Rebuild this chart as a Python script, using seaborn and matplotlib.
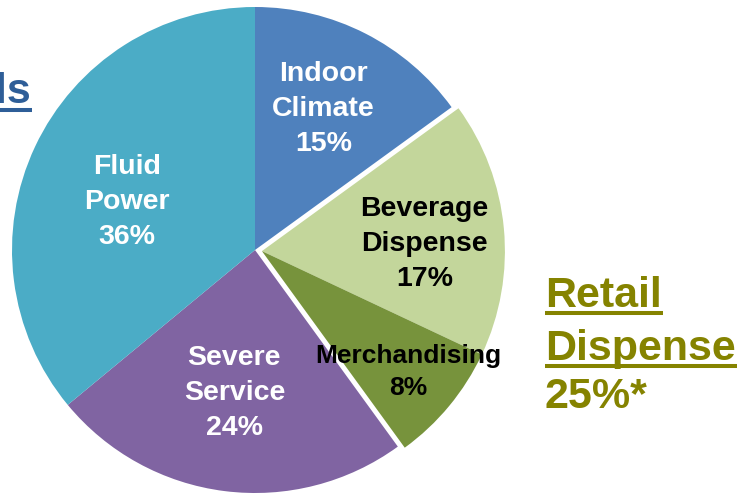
import matplotlib
matplotlib.use("Agg")
import matplotlib.pyplot as plt
from matplotlib.lines import Line2D
from matplotlib.transforms import IdentityTransform
import seaborn as sns
import numpy as np

# ---- data ----
categories = ["Indoor\nClimate", "Beverage\nDispense", "Merchandising", "Severe\nService", "Fluid\nPower"]
shares = [15, 17, 8, 24, 36]
groups = ["Other", "Retail", "Retail", "Other", "Other"]
colors = ["#4F81BD", "#C3D69B", "#77933C", "#8064A2", "#4BACC6"]
label_colors = ["white", "black", "black", "white", "white"]
group_title_lines = ["Retail", "Dispense"]
group_share = "25%*"
cut_title = "ls"

# ---- style ----
sns.set_theme(style="white")
plt.rcParams["font.family"] = ["Liberation Sans", "DejaVu Sans"]
plt.rcParams["font.weight"] = "bold"

W, H = 737, 496
fig = plt.figure(figsize=(W / 100, H / 100), dpi=100)
ax = fig.add_axes([0, 0, 1, 1])

cx, cy, R = 255, H - 250, 243
palette = sns.color_palette(colors)
wedges, _ = ax.pie(shares, colors=palette, startangle=90, counterclock=False,
                   radius=R, center=(cx, cy), wedgeprops=dict(linewidth=0))
ax.set_xlim(0, W)
ax.set_ylim(0, H)
ax.set_aspect("auto")
ax.axis("off")

# explode the Retail group together
g_idx = [i for i, g in enumerate(groups) if g == "Retail"]
t_lo = min(wedges[i].theta1 for i in g_idx)
t_hi = max(wedges[i].theta2 for i in g_idx)
g_mid = np.deg2rad((t_lo + t_hi) / 2)
shift = 7
for i in g_idx:
    wedges[i].set_center((cx + shift * np.cos(g_mid), cy + shift * np.sin(g_mid)))

# slice labels
label_dist = [0.645, 0.67, 0.78, 0.595, 0.563]
label_turn = [1, -3, 0, -1, 4.5]
label_size = [20.5, 20.5, 19, 20.5, 20.5]
for i, w in enumerate(wedges):
    mid = np.deg2rad((w.theta1 + w.theta2) / 2 + label_turn[i])
    x0, y0 = w.center
    r = R * label_dist[i]
    ax.text(x0 + r * np.cos(mid), y0 + r * np.sin(mid),
            f"{categories[i]}\n{shares[i]}%", ha="center", va="center",
            color=label_colors[i], fontsize=label_size[i], fontweight="bold",
            linespacing=1.45)

# group title (underlined) on the right
olive = "#858300"
underlined = []
baselines = [H - 307, H - 360]
for line, yb in zip(group_title_lines, baselines):
    t = ax.text(545, yb, line, ha="left", va="baseline", color=olive,
                fontsize=31, fontweight="bold")
    underlined.append((t, yb - 6, olive))
ax.text(545, H - 408, group_share, ha="left", va="baseline", color=olive,
        fontsize=31, fontweight="bold")

# clipped title at top-left
blue = "#2E5E98"
t = ax.text(31, H - 103, cut_title, ha="right", va="baseline", color=blue,
            fontsize=31, fontweight="bold")
underlined.append((t, H - 109.5, blue))

fig.canvas.draw()
renderer = fig.canvas.get_renderer()
for t, yu, col in underlined:
    bb = t.get_window_extent(renderer)
    fig.add_artist(Line2D([bb.x0, bb.x1 + 1], [yu, yu], transform=IdentityTransform(),
                          color=col, linewidth=2.9, solid_capstyle="butt"))

fig.savefig("out.png", dpi=100)
